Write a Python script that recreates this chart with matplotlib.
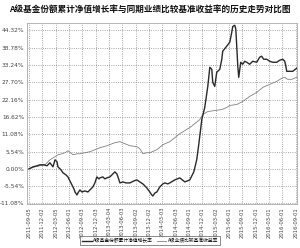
import matplotlib
matplotlib.use("Agg")
import matplotlib.pyplot as plt

plt.rcParams['font.family'] = ['Noto Sans CJK SC', 'DejaVu Sans']
plt.rcParams['axes.unicode_minus'] = False

title = "A级基金份额累计净值增长率与同期业绩比较基准收益率的历史走势对比图"
fund_label = "A级基金份额累计净值增长率"
bench_label = "A级业绩比较基准收益率"

tick_dates = ["2011-09-05", "2011-12-02", "2012-03-05", "2012-06-01", "2012-09-03",
              "2012-12-03", "2013-03-04", "2013-06-03", "2013-09-02", "2013-12-02",
              "2014-03-03", "2014-06-03", "2014-09-01", "2014-12-01", "2015-03-02",
              "2015-06-01", "2015-09-01", "2015-12-01", "2016-03-01", "2016-06-01",
              "2016-09-01"]
y_ticks = [-11.08, -5.54, 0.00, 5.54, 11.08, 16.62, 22.16, 27.70, 33.24, 38.78, 44.32]

# time in quarters since start
fund_t = [0, .30, .60, .82, 1.12, 1.35, 1.57, 1.80, 1.95, 2.10, 2.17, 2.40, 2.55, 2.77,
          2.92, 3.07, 3.22, 3.37, 3.45, 3.60, 3.67, 3.82, 3.97, 4.19, 4.42, 4.57, 4.79,
          4.94, 5.09, 5.24, 5.32, 5.54, 5.69, 5.84, 6.07, 6.22, 6.44, 6.59, 6.67, 6.82,
          7.04, 7.27, 7.57, 7.87, 8.09, 8.31, 8.54, 8.84, 9.06, 9.21, 9.29, 9.44, 9.59,
          9.81, 10.04, 10.19, 10.41, 10.56, 10.94, 11.31, 11.69, 12.06, 12.36, 12.58,
          12.73, 12.96, 13.18, 13.41, 13.56, 13.71, 13.78, 13.93, 14.08, 14.31, 14.46,
          14.53, 14.83, 15.06, 15.21, 15.28, 15.43, 15.51, 15.58, 15.66, 15.73, 15.88,
          16.03, 16.18, 16.33, 16.55, 16.78, 17.08, 17.30, 17.45, 17.60, 17.83, 18.05,
          18.28, 18.58, 18.80, 19.03, 19.18, 19.25, 19.33, 19.55, 19.78, 20.07]
fund_v = [0, .64, .97, 1.29, 1.29, .97, 1.93, .64, 2.90, 2.25, .64, -.32, -1.29, -1.93,
          -2.58, -3.87, -5.15, -6.44, -7.41, -8.37, -7.73, -6.76, -7.41, -7.09, -7.41,
          -6.76, -5.80, -4.51, -2.58, -3.22, -2.90, -2.58, -3.22, -2.90, -2.58, -1.93,
          -0.97, -1.61, -2.58, -4.51, -4.19, -4.51, -4.51, -3.87, -3.54, -4.19, -4.83,
          -6.12, -7.41, -8.37, -8.70, -7.73, -7.41, -5.80, -4.83, -4.51, -4.83, -4.51,
          -3.54, -2.90, -4.19, -3.54, -0.97, 2.90, 7.73, 15.78, 19.65, 26.41, 32.53,
          31.89, 27.70, 26.41, 30.92, 31.89, 35.11, 37.69, 39.30, 40.58, 43.81, 45.60,
          46.00, 44.77, 39.30, 32.85, 29.31, 34.14, 33.50, 34.47, 34.14, 33.50, 34.47,
          34.14, 35.75, 36.08, 35.11, 35.11, 34.47, 34.14, 34.14, 34.79, 35.11, 34.47,
          33.18, 31.24, 31.24, 31.24, 32.21]

bench_t = [0, .45, .82, 1.20, 1.57, 1.95, 2.17, 2.47, 2.70, 2.92, 3.30, 3.60, 3.82, 4.19,
           4.57, 4.94, 5.32, 5.84, 6.44, 6.82, 7.19, 7.57, 8.09, 8.31, 8.54, 8.84, 9.06,
           9.59, 10.04, 10.56, 10.94, 11.31, 11.69, 12.06, 12.43, 12.81, 13.03, 13.41,
           13.93, 14.46, 14.83, 15.06, 15.58, 16.03, 16.55, 17.08, 17.53, 18.05, 18.58,
           18.95, 19.18, 19.40, 19.70, 20.07]
bench_v = [0, .64, .97, 1.29, 2.90, 3.87, 4.51, 4.83, 5.15, 5.80, 4.51, 4.83, 4.83, 5.15,
           5.48, 6.12, 6.76, 7.41, 8.37, 8.70, 8.05, 7.41, 7.09, 6.44, 4.83, 5.15, 5.15,
           6.12, 7.73, 8.70, 9.99, 11.27, 12.24, 13.21, 14.49, 15.78, 17.39, 18.36, 18.68,
           19.00, 19.65, 20.29, 20.61, 21.58, 23.19, 24.48, 26.09, 27.06, 28.02, 28.99,
           29.31, 28.67, 28.67, 29.31]

fig = plt.figure(figsize=(3.0, 2.48), dpi=100)
ax = fig.add_axes([0.09, 0.177, 0.90, 0.730])

ax.plot(bench_t, bench_v, color='#808080', lw=0.6, label=bench_label, zorder=3)
ax.plot(fund_t, fund_v, color='#2a2a2a', lw=1.0, label=fund_label, zorder=4)

ax.set_xlim(-0.15, 20.1)
ax.set_ylim(-11.3, 46.7)
ax.set_xticks(range(len(tick_dates)))
ax.set_xticklabels(tick_dates, rotation=90, fontsize=3.8, color='#444444',
                   family='DejaVu Sans')
ax.set_yticks(y_ticks)
ax.set_yticklabels([f"{v:.2f}%" for v in y_ticks], fontsize=4.2, color='#444444',
                   family='DejaVu Sans')
ax.tick_params(length=0, pad=2)
ax.grid(True, linestyle=':', color='#888888', lw=0.6)
for s in ax.spines.values():
    s.set_color('#aaaaaa')
    s.set_linewidth(0.6)

fig.text(0.5, 0.963, title, ha='center', va='center', fontsize=6.2, fontweight='bold',
         color='#111111')

h, l = ax.get_legend_handles_labels()
leg = fig.legend(h[::-1], l[::-1], loc='center', bbox_to_anchor=(0.5, 0.03), ncol=2,
                 fontsize=3.4, frameon=True, fancybox=False, handlelength=2.0,
                 columnspacing=0.8, borderpad=0.4, handletextpad=0.3)
leg.get_frame().set_edgecolor('#555555')
leg.get_frame().set_linewidth(0.6)

fig.savefig("out.png", dpi=100)
